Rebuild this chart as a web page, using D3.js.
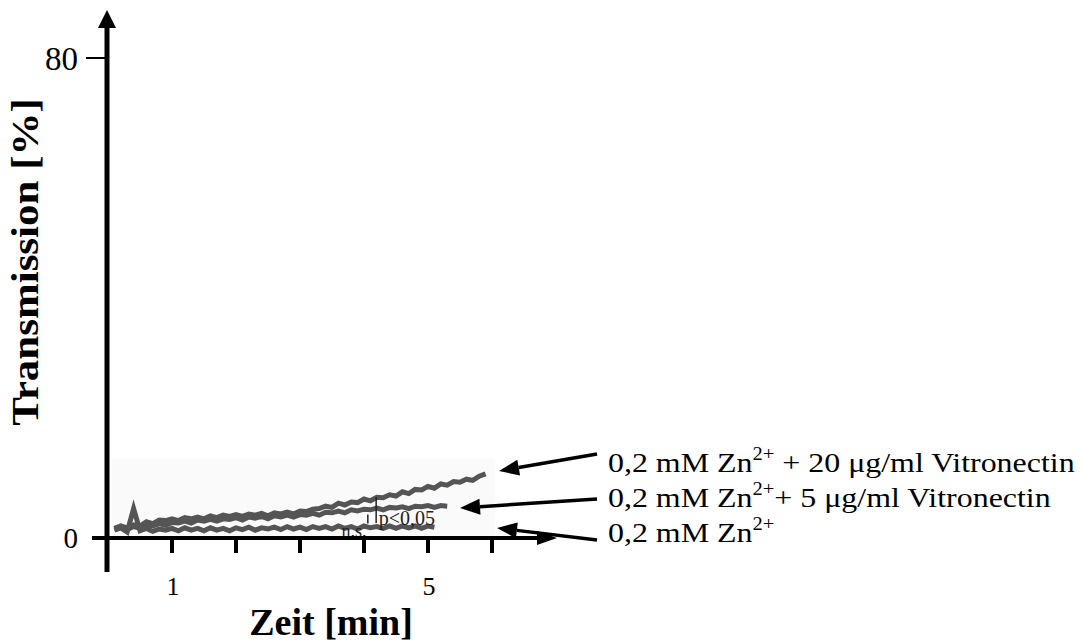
<!DOCTYPE html>
<html>
<head>
<meta charset="utf-8">
<script src="https://cdn.jsdelivr.net/npm/d3@7"></script>
<style>
  html, body { margin: 0; padding: 0; background: #fff; }
  svg { display: block; font-family: "Liberation Serif", "Times New Roman", serif; }
</style>
</head>
<body>
<svg id="chart" width="1083" height="644"></svg>
<script>
// Sampling times (min) shared by all traces
const minutes = [0.1,0.2,0.3,0.4,0.5,0.6,0.7,0.8,0.9,1.0,1.1,1.2,1.3,1.4,1.5,1.6,1.7,1.8,1.9,2.0,
  2.1,2.2,2.3,2.4,2.5,2.6,2.7,2.8,2.9,3.0,3.1,3.2,3.3,3.4,3.5,3.6,3.7,3.8,3.9,4.0,
  4.1,4.2,4.3,4.4,4.5,4.6,4.7,4.8,4.9,5.0,5.1,5.2,5.3,5.4,5.5,5.6,5.7,5.8,5.9];

// Transmission (%) per condition
const zn20Vn = [1.6,2.0,1.7,2.2,2.0,2.7,2.4,3.0,2.9,3.2,2.9,3.4,3.2,3.5,3.2,3.7,3.4,3.8,3.6,3.9,
  3.6,4.0,3.8,4.1,3.7,4.2,4.0,4.3,4.0,4.5,4.4,4.8,4.9,5.3,5.1,5.8,5.5,6.0,5.9,6.5,
  6.2,6.8,6.7,7.2,7.0,7.7,7.4,8.1,8.0,8.6,8.3,9.0,8.8,9.4,9.3,9.8,9.6,10.3,10.7];
const zn5Vn = [1.5,1.8,1.4,1.9,1.6,2.1,2.0,2.4,2.1,2.6,2.5,2.8,2.5,3.0,2.8,3.1,2.8,3.2,3.1,3.4,
  3.0,3.5,3.3,3.6,3.2,3.7,3.5,3.8,3.5,3.9,3.8,4.1,3.8,4.3,4.2,4.5,4.2,4.7,4.5,4.8,
  4.7,5.0,4.7,5.1,5.0,5.2,4.9,5.3,5.2,5.4,5.1,5.4,5.3];
const znOnly = [1.3,1.7,1.0,4.9,1.2,1.6,1.1,1.5,1.3,1.6,1.2,1.7,1.3,1.6,1.2,1.7,1.3,1.6,1.2,1.7,
  1.4,1.8,1.3,1.7,1.5,1.8,1.4,1.9,1.5,1.8,1.4,1.9,1.6,1.9,1.5,2.0,1.6,1.9,1.5,2.0,
  1.7,1.9,1.6,2.0,1.6,2.0,1.7,2.0,1.6,2.0,1.8];

const yTicks = [0, 80];
const xTicks = [1, 2, 3, 4, 5, 6];
const xTickLabels = {1: "1", 5: "5"};

const svg = d3.select("#chart");
const x = d3.scaleLinear().domain([0, 6]).range([108, 492]);
const y = d3.scaleLinear().domain([0, 80]).range([538, 58]);

// faint backdrop behind the traces
svg.append("rect")
  .attr("x", x(0.06)).attr("y", y(13.3))
  .attr("width", x(6.05) - x(0.06)).attr("height", y(0) - y(13.3))
  .attr("fill", "#fafafa");

// traces
const line = d3.line().x(d => x(d[0])).y(d => y(d[1]));
[zn20Vn, zn5Vn, znOnly].forEach(vals => {
  svg.append("path")
    .datum(vals.map((v, i) => [minutes[i], v]))
    .attr("d", line)
    .attr("fill", "none")
    .attr("stroke", "#555")
    .attr("stroke-width", 5)
    .attr("stroke-linejoin", "miter")
    .attr("stroke-miterlimit", 10);
});

// significance marks
svg.append("line")
  .attr("x1", x(4.19)).attr("x2", x(4.19))
  .attr("y1", y(6.8)).attr("y2", y(2.5))
  .attr("stroke", "#222").attr("stroke-width", 1.5);
svg.append("line")
  .attr("x1", x(4.06)).attr("x2", x(4.06))
  .attr("y1", y(3.9)).attr("y2", y(2.4))
  .attr("stroke", "#222").attr("stroke-width", 1.5);
svg.append("text").attr("x", x(4.23)).attr("y", y(2.2))
  .attr("font-size", 20).attr("fill", "#222").text("p<0,05");
svg.append("text").attr("x", x(3.65)).attr("y", y(0.25))
  .attr("font-size", 18).attr("fill", "#222").text("n.s.");

// arrow helper
function arrow(x1, y1, x2, y2, w, headLen, headW) {
  const a = Math.atan2(y2 - y1, x2 - x1);
  const bx = x2 - headLen * Math.cos(a), by = y2 - headLen * Math.sin(a);
  svg.append("line").attr("x1", x1).attr("y1", y1).attr("x2", bx).attr("y2", by)
    .attr("stroke", "#000").attr("stroke-width", w);
  const px = Math.sin(a) * headW / 2, py = -Math.cos(a) * headW / 2;
  svg.append("path")
    .attr("d", `M${x2},${y2}L${bx + px},${by + py}L${bx - px},${by - py}Z`)
    .attr("fill", "#000");
}

// axes
arrow(x(0) - 1, 572, x(0) - 1, 10, 5, 18, 18);
arrow(x(0), y(0), 557, y(0), 4, 20, 14);

svg.selectAll(".ytick").data(yTicks).enter().append("line")
  .attr("x1", d => d === 0 ? 92 : 86).attr("x2", x(0))
  .attr("y1", d => y(d)).attr("y2", d => y(d))
  .attr("stroke", "#000").attr("stroke-width", d => d === 0 ? 4 : 2);
svg.selectAll(".ylab").data(yTicks).enter().append("text")
  .attr("x", 78).attr("y", d => y(d)).attr("dy", "0.35em")
  .attr("text-anchor", "end").attr("font-size", d => d === 0 ? 29 : 33).text(d => d);

svg.selectAll(".xtick").data(xTicks).enter().append("line")
  .attr("x1", d => x(d)).attr("x2", d => x(d))
  .attr("y1", y(0)).attr("y2", 553)
  .attr("stroke", "#000").attr("stroke-width", 4);
svg.selectAll(".xlab").data(xTicks.filter(d => xTickLabels[d])).enter().append("text")
  .attr("x", d => x(d) + 1).attr("y", 595)
  .attr("text-anchor", "middle").attr("font-size", 26).text(d => xTickLabels[d]);

svg.append("text")
  .attr("x", 331).attr("y", 635)
  .attr("text-anchor", "middle").attr("font-size", 38).attr("font-weight", "bold")
  .text("Zeit [min]");
svg.append("text")
  .attr("transform", "translate(38,262) scale(0.9,1) rotate(-90)")
  .attr("text-anchor", "middle").attr("font-size", 43).attr("font-weight", "bold")
  .text("Transmission [%]");

// condition labels with pointers
const labels = [
  {pre: "0,2 mM Zn", post: " + 20 μg/ml Vitronectin", y: 472, from: [597, 454], to: [499, 471]},
  {pre: "0,2 mM Zn", post: "+ 5 μg/ml Vitronectin", y: 507, from: [597, 499], to: [460, 508]},
  {pre: "0,2 mM Zn", post: "", y: 542, from: [597, 540], to: [497, 528]}
];
labels.forEach(l => {
  const t = svg.append("text")
    .attr("transform", `translate(608,${l.y}) scale(1.14,1)`)
    .attr("font-size", 28);
  t.append("tspan").text(l.pre);
  t.append("tspan").attr("dy", -12).attr("font-size", 18).text("2+");
  if (l.post) t.append("tspan").attr("dy", 12).text(l.post);
  arrow(l.from[0], l.from[1], l.to[0], l.to[1], 3.5, 20, 16);
});
</script>
</body>
</html>
